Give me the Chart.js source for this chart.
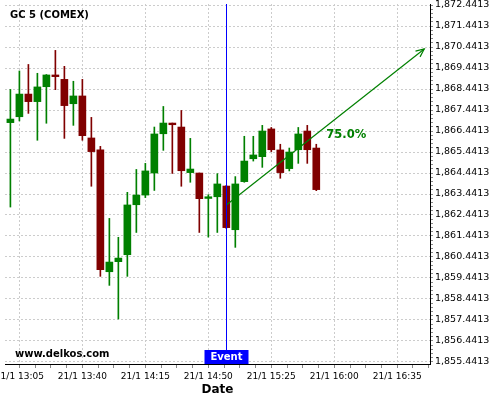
<!DOCTYPE html>
<html>
<head>
<meta charset="utf-8">
<script src="https://cdn.jsdelivr.net/npm/chart.js@4"></script>
<style>
    html, body { margin: 0; padding: 0; background: #fff; }
</style>
</head>
<body>
<canvas id="chart" width="500" height="400"></canvas>
<script>
// GC 5 (COMEX) - 5 minute candles, 21/1
var times = [
    "13:00", "13:05", "13:10", "13:15", "13:20", "13:25", "13:30", "13:35", "13:40", "13:45", "13:50", "13:55",
    "14:00", "14:05", "14:10", "14:15", "14:20", "14:25", "14:30", "14:35", "14:40", "14:45", "14:50", "14:55",
    "15:00", "15:05", "15:10", "15:15", "15:20", "15:25", "15:30", "15:35", "15:40", "15:45", "15:50"
];
var opens = [
    1866.84, 1867.12, 1868.20, 1867.84, 1868.55, 1869.11, 1868.90, 1867.74, 1868.11, 1866.11, 1865.54, 1859.74,
    1860.22, 1860.55, 1862.93, 1863.39, 1864.44, 1866.31, 1866.82, 1866.63, 1864.46, 1864.44, 1863.23, 1863.31,
    1863.82, 1861.74, 1864.03, 1865.12, 1865.22, 1866.54, 1865.54, 1864.65, 1865.55, 1866.44, 1865.63
];
var highs = [
    1868.42, 1869.30, 1869.61, 1869.19, 1869.13, 1870.28, 1869.52, 1868.81, 1868.90, 1867.09, 1865.71, 1862.28,
    1861.38, 1863.52, 1864.61, 1864.90, 1866.63, 1867.61, 1866.82, 1867.42, 1866.09, 1864.44, 1863.41, 1864.41,
    1863.85, 1864.27, 1866.19, 1866.19, 1866.71, 1866.61, 1865.81, 1865.63, 1866.61, 1866.71, 1865.81
];
var lows = [
    1862.82, 1866.92, 1867.28, 1866.00, 1866.81, 1868.41, 1866.09, 1866.71, 1866.00, 1863.81, 1859.52, 1859.09,
    1857.49, 1859.52, 1861.61, 1863.27, 1863.61, 1865.52, 1864.42, 1863.81, 1864.00, 1861.61, 1861.39, 1861.61,
    1861.80, 1860.90, 1864.00, 1865.01, 1864.71, 1865.46, 1864.19, 1864.54, 1864.90, 1864.90, 1863.60
];
var closes = [
    1867.01, 1868.20, 1867.84, 1868.54, 1869.11, 1869.03, 1867.65, 1868.11, 1866.22, 1865.46, 1859.84, 1860.20,
    1860.39, 1862.92, 1863.39, 1864.54, 1866.30, 1866.82, 1866.74, 1864.55, 1864.63, 1863.22, 1863.31, 1863.92,
    1861.84, 1863.92, 1865.01, 1865.30, 1866.44, 1865.55, 1864.46, 1865.44, 1866.30, 1865.55, 1863.65
];

var xTickTimes = ["13:05", "13:40", "14:15", "14:50", "15:25", "16:00", "16:35"];
var yTickValues = [
    1855.4413, 1856.4413, 1857.4413, 1858.4413, 1859.4413, 1860.4413, 1861.4413, 1862.4413, 1863.4413,
    1864.4413, 1865.4413, 1866.4413, 1867.4413, 1868.4413, 1869.4413, 1870.4413, 1871.4413, 1872.4413
];

var eventTime = "15:00";
var arrowStart = ["15:00", 1862.92];
var arrowEnd = ["16:50", 1870.35];
var arrowLabel = "75.0%";

var FONT = "DejaVu Sans";
var UP = "#008000";
var DOWN = "#800000";
var GRID = "#cccccc";

function toMin(t) {
    var p = t.split(":");
    return (+p[0] - 13) * 60 + (+p[1]);
}

function fmt(v) {
    var s = v.toFixed(4).split(".");
    return s[0].replace(/\B(?=(\d{3})+(?!\d))/g, ",") + "." + s[1];
}

var xMajors = xTickTimes.map(toMin);

var bodies = times.map(function (t, i) {
    return { x: toMin(t), y: [opens[i], closes[i]] };
});
var wicks = times.map(function (t, i) {
    return { x: toMin(t), y: [lows[i], highs[i]] };
});
var colors = closes.map(function (c, i) {
    return c >= opens[i] ? UP : DOWN;
});

// ARROW HEAD, EVENT LINE, TEXTS
var overlay = {
    id: "overlay",
    afterDatasetsDraw: function (chart) {
        var ctx = chart.ctx;
        var a = chart.chartArea;
        var x = chart.scales.x;
        var y = chart.scales.y;

        var x0 = x.getPixelForValue(toMin(arrowStart[0]));
        var y0 = y.getPixelForValue(arrowStart[1]);
        var x1 = x.getPixelForValue(toMin(arrowEnd[0]));
        var y1 = y.getPixelForValue(arrowEnd[1]);
        var ang = Math.atan2(y1 - y0, x1 - x0);
        ctx.save();
        ctx.strokeStyle = UP;
        ctx.lineWidth = 1.2;
        ctx.beginPath();
        ctx.moveTo(x1 - 9 * Math.cos(ang - 0.42), y1 - 9 * Math.sin(ang - 0.42));
        ctx.lineTo(x1, y1);
        ctx.lineTo(x1 - 9 * Math.cos(ang + 0.42), y1 - 9 * Math.sin(ang + 0.42));
        ctx.stroke();

        ctx.fillStyle = UP;
        ctx.font = "bold 11.5px " + FONT;
        ctx.textAlign = "left";
        ctx.textBaseline = "middle";
        ctx.fillText(arrowLabel, x.getPixelForValue(toMin("15:55")) + 1, y.getPixelForValue(1866.26));

        // event line
        var ex = Math.floor(x.getPixelForValue(toMin(eventTime))) + 0.5;
        ctx.strokeStyle = "#0000ff";
        ctx.lineWidth = 1;
        ctx.beginPath();
        ctx.moveTo(ex, a.top);
        ctx.lineTo(ex, a.bottom);
        ctx.stroke();
        ctx.fillStyle = "#0000ff";
        ctx.fillRect(ex - 22, a.bottom - 14, 44, 14);
        ctx.fillStyle = "#fff";
        ctx.font = "bold 10px " + FONT;
        ctx.textAlign = "center";
        ctx.fillText("Event", ex, a.bottom - 6.5);

        ctx.fillStyle = "#000";
        ctx.textAlign = "left";
        ctx.fillText("GC 5 (COMEX)", 10, 15);
        ctx.fillText("www.delkos.com", 15, 354);
        ctx.restore();
    }
};

new Chart(document.getElementById("chart"), {
    type: "bar",
    data: {
        datasets: [
            {
                type: "line",
                data: [
                    { x: toMin(arrowStart[0]), y: arrowStart[1] },
                    { x: toMin(arrowEnd[0]), y: arrowEnd[1] },
                ],
                borderColor: UP,
                borderWidth: 1.2,
                pointRadius: 0,
                order: 0,
            },
            {
                data: bodies,
                backgroundColor: colors,
                barThickness: 7,
                minBarLength: 1,
                grouped: false,
                order: 1,
            },
            {
                data: wicks,
                backgroundColor: colors,
                barThickness: 1,
                grouped: false,
                order: 2,
            },
        ],
    },
    options: {
        responsive: false,
        animation: false,
        events: [],
        layout: { padding: { left: 5, top: 4, right: 0, bottom: 0 } },
        plugins: {
            legend: { display: false },
            tooltip: { enabled: false },
        },
        scales: {
            x: {
                type: "linear",
                min: -3,
                max: 233.2,
                offset: false,
                grid: {
                    offset: false,
                    color: function (c) {
                        return c.tick && xMajors.indexOf(c.tick.value) >= 0 ? GRID : "rgba(0,0,0,0)";
                    },
                    tickColor: "#888",
                    tickLength: 4,
                },
                border: { color: "#000", width: 1, dash: [2, 2] },
                ticks: {
                    autoSkip: false,
                    maxRotation: 0,
                    padding: 3,
                    color: "#000",
                    font: { family: FONT, size: 9 },
                    callback: function (value) {
                        var i = xMajors.indexOf(value);
                        return i >= 0 ? "21/1 " + xTickTimes[i] : "";
                    },
                },
                title: {
                    display: true,
                    text: "Date",
                    color: "#000",
                    font: { family: FONT, size: 12, weight: "bold" },
                    padding: { top: 0, bottom: 3 },
                },
                afterBuildTicks: function (s) {
                    var t = [];
                    for (var k = 0; 5 + 8.75 * k <= 233.2; k++) {
                        t.push({ value: 5 + 8.75 * k });
                    }
                    s.ticks = t;
                },
                afterFit: function (s) {
                    s.height = 36;
                    s.paddingLeft = 0;
                    s.paddingRight = 0;
                },
            },
            y: {
                position: "right",
                beginAtZero: false,
                min: 1855.346,
                max: 1872.489,
                grid: {
                    color: function (c) {
                        return c.tick && yTickValues.indexOf(c.tick.value) >= 0 ? GRID : "rgba(0,0,0,0)";
                    },
                    tickColor: "#888",
                    tickLength: 3,
                },
                border: { color: "#000", width: 1, dash: [2, 2] },
                ticks: {
                    autoSkip: false,
                    padding: 2,
                    color: "#000",
                    font: { family: FONT, size: 9.5 },
                    callback: function (value) {
                        return yTickValues.indexOf(value) >= 0 ? fmt(value) : "";
                    },
                },
                afterBuildTicks: function (s) {
                    var t = [];
                    yTickValues.forEach(function (v, j) {
                        t.push({ value: v });
                        if (j < yTickValues.length - 1) {
                            for (var m = 1; m < 5; m++) t.push({ value: v + 0.2 * m });
                        }
                    });
                    s.ticks = t;
                },
                afterFit: function (s) {
                    s.width = 70;
                    s.paddingTop = 0;
                    s.paddingBottom = 0;
                },
            },
        },
    },
    plugins: [overlay],
});
</script>
</body>
</html>
